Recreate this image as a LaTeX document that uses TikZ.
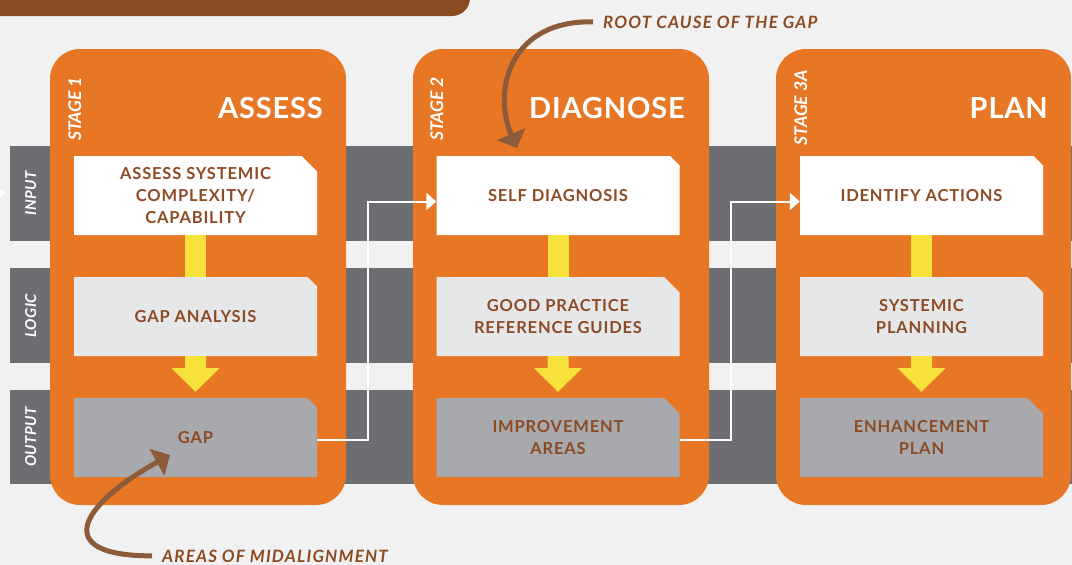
\documentclass[tikz,border=0pt]{standalone}
\usepackage{fontspec}
\setmainfont{Lato}
\usetikzlibrary{shapes.misc,arrows.meta,calc}
\definecolor{bgc}{HTML}{F1F1F1}
\definecolor{barc}{HTML}{8B4A22}
\definecolor{orangec}{HTML}{E77725}
\definecolor{bandc}{HTML}{6D6E71}
\definecolor{logicc}{HTML}{E6E7E8}
\definecolor{outc}{HTML}{A7A9AC}
\definecolor{yelc}{HTML}{F7E23B}
\definecolor{textc}{HTML}{8D4B24}
\definecolor{arrc}{HTML}{8C5B3A}
\begin{document}
\begin{tikzpicture}[x=1pt,y=-1pt,
  panel/.style={fill=orangec, rounded corners=30pt},
  band/.style={fill=bandc},
  boxbase/.style={chamfered rectangle, chamfered rectangle corners=north east,
    chamfered rectangle xsep=12pt, minimum width=243pt, minimum height=79pt,
    inner sep=0pt, text=textc, align=center,
    font=\fontsize{16.5}{22}\selectfont\bfseries\addfontfeatures{LetterSpace=5}},
  inbox/.style={boxbase, fill=white},
  logbox/.style={boxbase, fill=logicc},
  outbox/.style={boxbase, fill=outc},
  title/.style={text=white, inner sep=0pt, font=\fontsize{29}{32}\selectfont\bfseries\addfontfeatures{LetterSpace=3}},
  stagelbl/.style={text=white, inner sep=0pt, rotate=90, font=\fontsize{17.5}{20}\selectfont\bfseries\itshape},
  bandlbl/.style={text=white, inner sep=0pt, rotate=90, font=\fontsize{15}{18}\selectfont\bfseries\itshape\addfontfeatures{LetterSpace=3}},
  annot/.style={text=textc, inner sep=0pt, font=\fontsize{17}{20}\selectfont\bfseries\itshape\addfontfeatures{LetterSpace=7}},
  yel/.style={fill=yelc},
  conn/.style={draw=white, line width=2pt, -{Triangle[length=10pt,width=17pt]}},
  curvy/.style={draw=arrc, line width=5pt, -{Triangle[length=15pt,width=30pt]}}
]
\useasboundingbox (0,0) rectangle (1072,565);
\fill[bgc] (0,0) rectangle (1072,565);
% top bar
\fill[barc, rounded corners=18pt] (-40,-40) rectangle (470,16);
% bands
\fill[band] (10,146) rectangle (1072,241);
\fill[band] (10,268) rectangle (1072,363);
\fill[band] (10,390) rectangle (1072,484);
% small incoming tip at left edge
\fill[white] (-5,186) -- (6,193) -- (-5,200) -- cycle;
% band labels
\node[bandlbl, anchor=base] (bin) at (36,193.5) {INPUT};
\node[bandlbl, anchor=base] (blo) at (36,315.5) {LOGIC};
\node[bandlbl, anchor=base] (bou) at (36,437) {OUTPUT};
% panels
\fill[panel] (50,49) rectangle (346,505);
\fill[panel] (413,49) rectangle (709,505);
\fill[panel] (776,49) rectangle (1071,505);
% titles and stage labels
\node[title, anchor=base east] (t1) at (323,118) {ASSESS};
\node[title, anchor=base east] (t2) at (685,118) {DIAGNOSE};
\node[title, anchor=base east] (t3) at (1048,118) {PLAN};
\node[stagelbl, anchor=base] (s1) at (81,109) {STAGE 1};
\node[stagelbl, anchor=base] (s2) at (443,109) {STAGE 2};
\node[stagelbl, anchor=base] (s3) at (807,108) {STAGE 3A};
% boxes
\node[inbox] (i1) at (195.5,195.5) {ASSESS SYSTEMIC\\COMPLEXITY/\\CAPABILITY};
\node[logbox] (l1) at (195.5,316.5) {GAP ANALYSIS};
\node[outbox] (o1) at (195.5,437.5) {GAP};
\node[inbox] (i2) at (558,195.5) {SELF DIAGNOSIS};
\node[logbox] (l2) at (558,316.5) {GOOD PRACTICE\\REFERENCE GUIDES};
\node[outbox] (o2) at (558,437.5) {IMPROVEMENT\\AREAS};
\node[inbox] (i3) at (921.5,195.5) {IDENTIFY ACTIONS};
\node[logbox] (l3) at (921.5,316.5) {SYSTEMIC\\PLANNING};
\node[outbox] (o3) at (921.5,437.5) {ENHANCEMENT\\PLAN};
% yellow connectors
\foreach \k in {1,2,3}{
  \fill[yel] ($(i\k.south)+(-10.5,0)$) rectangle ($(l\k.north)+(10.5,0)$);
  \fill[yel] ($(l\k.south)+(-10.5,0)$) -- ($(l\k.south)+(-10.5,12)$) -- ($(l\k.south)+(-24,12)$)
    -- ($(o\k.north)+(0,-6)$) -- ($(l\k.south)+(24,12)$) -- ($(l\k.south)+(10.5,12)$)
    -- ($(l\k.south)+(10.5,0)$) -- cycle;
}
% white connectors
\draw[conn] ($(o1.east)+(0,2)$) -- ++(51,0) |- ($(i2.west)+(0,6)$);
\draw[conn] ($(o2.east)+(0,2)$) -- ++(51,0) |- ($(i3.west)+(0,6)$);
% annotations
\node[annot, anchor=base west] (rc) at (603,28) {ROOT CAUSE OF THE GAP};
\node[annot, anchor=base west] (am) at (162,562) {AREAS OF MIDALIGNMENT};
\coordinate (tip1) at (517,148);
\coordinate (tip2) at (170,455);
\draw[curvy] ($(rc.west)+(-10,0)$) .. controls (510,20) and (492,90) .. (tip1);
\draw[curvy] ($(am.west)+(-10,0)$) .. controls (50,556) and (80,505) .. (tip2);
\end{tikzpicture}
\end{document}
